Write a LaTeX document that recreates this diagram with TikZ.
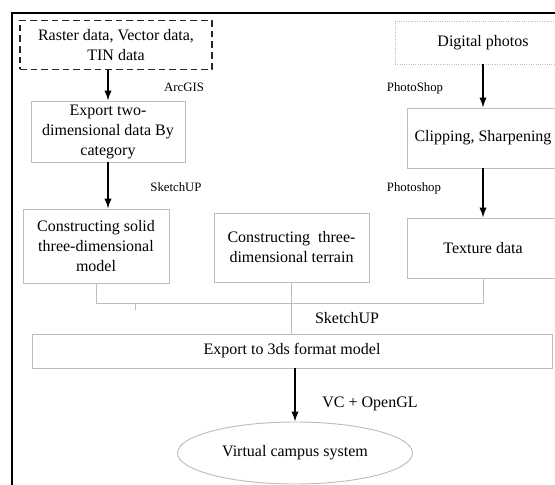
\documentclass[tikz,border=0pt]{standalone}
\usepackage{fontspec}
\setmainfont{Liberation Serif}
\usepackage{tikz}
\usetikzlibrary{arrows.meta}
\usetikzlibrary{shapes.geometric}
\tikzset{box/.style = {draw=mgray, line width=0.7pt, align=center, inner sep=0pt,
                       font=\fontsize{12}{15}\selectfont}}
\tikzset{dashbox/.style = {box, draw=black!85, line width=1.4pt,
                           dash pattern=on 5pt off 3pt}}
\tikzset{dotbox/.style = {box, draw=mgray, line width=0.7pt, densely dotted}}
\tikzset{tool/.style = {font=\fontsize{9.6}{11}\selectfont}}
\tikzset{arr/.style = {-{Latex[length=7.5pt,width=5.5pt]}, line width=1pt}}
\tikzset{link/.style = {draw=mgray, line width=0.7pt}}
\definecolor{mgray}{rgb}{0.74, 0.74, 0.74}

\begin{document}
\begin{tikzpicture}[x=0.75pt, y=-0.75pt]
      \useasboundingbox (0, 0) rectangle (555, 484);
      \clip (0, 0) rectangle (555, 484);
      \draw [line width=1.8pt] (12, 490) -- (12, 13) -- (560, 13);

      % left column
      \node [dashbox, minimum width=144pt, minimum height=36.75pt] (raster) at (116, 45)
        {Raster data, Vector data,\\ TIN data};
      \node [box, minimum width=115.5pt, minimum height=45.75pt] (export2d) at (108, 131.5)
        {Export two-\\ dimensional data By\\ category};
      \node [box, minimum width=109.5pt, minimum height=55.5pt] (solid) at (96, 246)
        {Constructing solid\\ three-dimensional\\ model};

      % middle
      \node [box, minimum width=116.25pt, minimum height=51.75pt] (terrain) at (291.5, 247.5)
        {Constructing\ \ three-\\ dimensional terrain};

      % right column
      \node [dotbox, minimum width=132pt, minimum height=32.25pt] (photos) at (483, 42.5)
        {Digital photos};
      \node [box, minimum width=114pt, minimum height=45pt] (clip) at (483, 138)
        {Clipping, Sharpening};
      \node [box, minimum width=114pt, minimum height=45pt] (texture) at (483, 248)
        {Texture data};

      % bottom
      \node [box, minimum width=390pt, minimum height=25.5pt] (export3ds) at (292, 351)
        {Export to 3ds format model};
      \node [box, ellipse, minimum width=176.25pt, minimum height=46.5pt] (campus) at (295, 453)
        {Virtual campus system};

      \draw [arr] (export2d.north |- raster.south) -- (export2d.north);
      \draw [arr] (export2d.south) -- (export2d.south |- solid.north);
      \draw [arr] (photos.south) -- (clip.north);
      \draw [arr] (clip.south) -- (texture.north);
      \draw [arr] (campus.north |- export3ds.south) -- (campus.north);

      \draw [link] (solid.south) -- ++(0, 20) -| (texture.south);
      \coordinate (tick) at (135, 303);
      \draw [link] (tick) -- ++(0, 7);
      \draw [link] (terrain.south) -- (terrain.south |- export3ds.north);

      \node [tool] (arcgis) at (184, 87) {ArcGIS};
      \node [tool] (sketch1) at (176, 187) {SketchUP};
      \node [tool] (pshop1) at (415, 88) {PhotoShop};
      \node [tool] (pshop2) at (414, 188) {Photoshop};
      \node [font=\fontsize{12}{15}\selectfont] (sketch2) at (347, 318) {SketchUP};
      \node [font=\fontsize{12}{15}\selectfont] (vcgl) at (370, 404) {VC + OpenGL};
    \end{tikzpicture}
\end{document}
